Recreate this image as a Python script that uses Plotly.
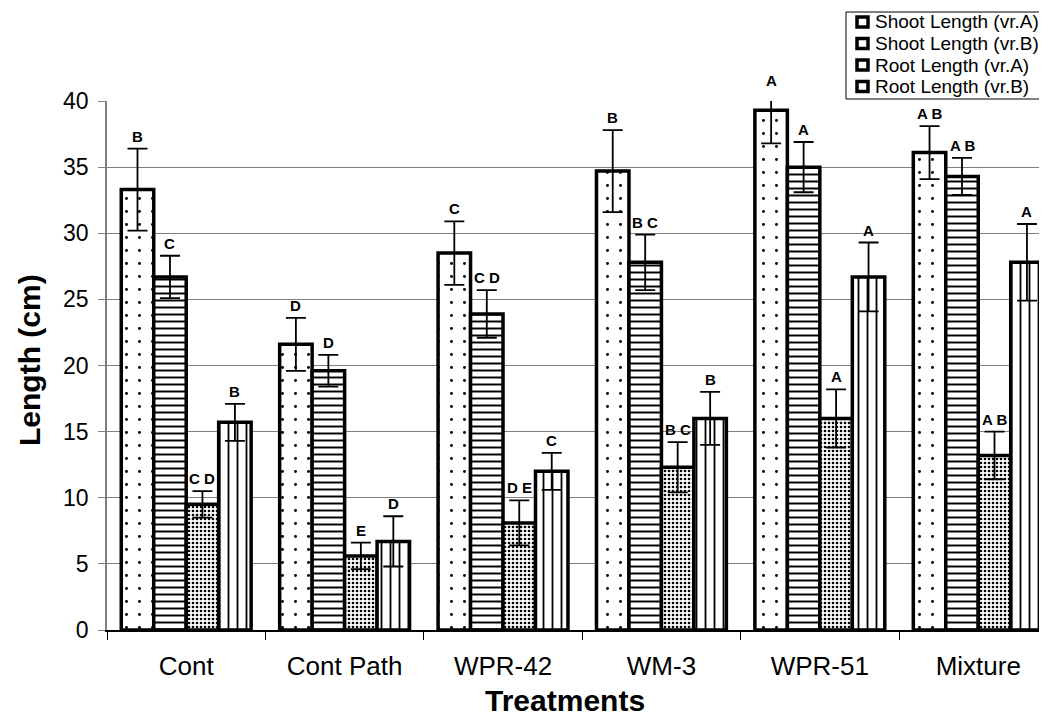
import plotly.graph_objects as go

categories = ["Cont", "Cont Path", "WPR-42", "WM-3", "WPR-51", "Mixture"]
series_names = ["Shoot Length (vr.A)", "Shoot Length (vr.B)", "Root Length (vr.A)", "Root Length (vr.B)"]

shoot_a = [33.3, 21.6, 28.5, 34.7, 39.3, 36.1]
shoot_a_err = [3.1, 2.0, 2.4, 3.1, 2.5, 2.0]
shoot_a_lbl = ["B", "D", "C", "B", "A", "A B"]

shoot_b = [26.7, 19.6, 23.9, 27.8, 35.0, 34.3]
shoot_b_err = [1.6, 1.2, 1.8, 2.1, 1.9, 1.4]
shoot_b_lbl = ["C", "D", "C D", "B C", "A", "A B"]

root_a = [9.5, 5.6, 8.1, 12.3, 16.0, 13.2]
root_a_err = [1.0, 1.0, 1.7, 1.9, 2.2, 1.8]
root_a_lbl = ["C D", "E", "D E", "B C", "A", "A B"]

root_b = [15.7, 6.7, 12.0, 16.0, 26.7, 27.8]
root_b_err = [1.4, 1.9, 1.4, 2.0, 2.6, 2.9]
root_b_lbl = ["B", "D", "C", "B", "A", "A"]

values = [shoot_a, shoot_b, root_a, root_b]
errors = [shoot_a_err, shoot_b_err, root_a_err, root_b_err]
labels = [shoot_a_lbl, shoot_b_lbl, root_a_lbl, root_b_lbl]
patterns = [(".", 13, 0.04), ("-", 7, 0.28), (".", 4, 0.35), ("|", 9, 0.2)]

FONT = "Liberation Sans, Arial, sans-serif"
BARGAP = 0.18
YMAX = 40

# figure geometry (figure pixels; the page adds an 8px body margin)
W, H = 1039, 713
ML, MR, MT, MB = 99, 0, 93, 91
PW, PH = W - ML - MR, H - MT - MB
PX_PER_UNIT = PH / YMAX


def px(sx):
    """screen x -> paper x"""
    return (sx - 8 - ML) / PW


def py(sy):
    """screen y -> paper y"""
    return (MT + PH - (sy - 8)) / PH


fig = go.Figure()
for name, vals, errs, (shape, size, sol) in zip(series_names, values, errors, patterns):
    fig.add_trace(go.Bar(
        name=name, x=categories, y=vals,
        marker=dict(color="white", line=dict(color="black", width=3.5),
                    pattern=dict(shape=shape, size=size, solidity=sol,
                                 fgcolor="black", bgcolor="white", fillmode="replace")),
        error_y=dict(type="data", array=errs, visible=True, color="black", thickness=1.8, width=10),
        showlegend=False,
    ))

# letter annotations above the error bars
nser = len(series_names)
bw = (1 - BARGAP) / nser
for k in range(nser):
    for i in range(len(categories)):
        top = values[k][i] + errors[k][i]
        extra = max(0.0, min(top, YMAX + 0.6) - YMAX) * PX_PER_UNIT
        xpos = i - (1 - BARGAP) / 2 + bw * (k + 0.5)
        fig.add_annotation(x=xpos, y=min(top, YMAX), xref="x", yref="y",
                           text="<b>%s</b>" % labels[k][i],
                           showarrow=False, yanchor="bottom", yshift=2 + extra,
                           font=dict(family=FONT, size=15, color="black"))

# legend box (drawn by hand to match the compact original)
fig.add_shape(type="rect", xref="paper", yref="paper", x0=px(846), x1=px(1060), y0=py(99), y1=py(12),
              line=dict(color="black", width=1), fillcolor="white", layer="above")
row_y = [22, 43.5, 65, 86.5]
for name, ry in zip(series_names, row_y):
    fig.add_shape(type="rect", xref="paper", yref="paper",
                  x0=px(857), x1=px(868), y0=py(ry + 5), y1=py(ry - 5),
                  line=dict(color="black", width=3.5), fillcolor="white", layer="above")
    fig.add_annotation(x=px(873), y=py(ry), xref="paper", yref="paper", text=name,
                       showarrow=False, xanchor="left", yanchor="middle",
                       font=dict(family=FONT, size=19, color="black"))

# axis titles
fig.add_annotation(x=px(565), y=py(700), xref="paper", yref="paper", text="<b>Treatments</b>",
                   showarrow=False, xanchor="center", yanchor="middle",
                   font=dict(family=FONT, size=30, color="black"))
fig.add_annotation(x=px(29), y=py(360), xref="paper", yref="paper", text="<b>Length (cm)</b>",
                   showarrow=False, xanchor="center", yanchor="middle", textangle=-90,
                   font=dict(family=FONT, size=30, color="black"))

fig.update_layout(
    width=W, height=H,
    paper_bgcolor="white", plot_bgcolor="white",
    barmode="group", bargap=BARGAP, bargroupgap=0,
    margin=dict(l=ML, r=MR, t=MT, b=MB, autoexpand=False),
    font=dict(family=FONT, color="black"),
    showlegend=False,
)
fig.update_yaxes(range=[0, YMAX], dtick=5, showgrid=True, gridcolor="#808080", gridwidth=1,
                 showline=True, linecolor="#808080", linewidth=1.5, ticks="outside", ticklen=7,
                 tickcolor="#808080", tickfont=dict(size=23, family=FONT), ticklabelstandoff=5,
                 zeroline=False)
fig.update_xaxes(range=[-0.5, 5.434], showline=True, linecolor="black", linewidth=2,
                 ticks="outside", ticklen=8,
                 tickson="boundaries", tickcolor="black", tickfont=dict(size=26, family=FONT),
                 ticklabelstandoff=12)

fig.write_html("out.html")
